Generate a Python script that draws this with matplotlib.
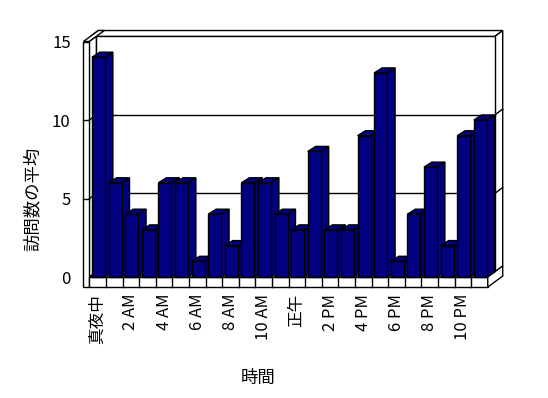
import matplotlib.pyplot as plt
from matplotlib.patches import Polygon
import numpy as np

plt.rcParams["font.family"] = ["Noto Sans CJK JP", "DejaVu Sans"]

hours = np.arange(24)
visits = [14, 6, 4, 3, 6, 6, 1, 4, 2, 6, 6, 4, 3, 8, 3, 3, 9, 13, 1, 4, 7, 2, 9, 10]
tick_pos = [0, 2, 4, 6, 8, 10, 12, 14, 16, 18, 20, 22]
tick_labels = ["真夜中", "2 AM", "4 AM", "6 AM", "8 AM", "10 AM",
               "正午", "2 PM", "4 PM", "6 PM", "8 PM", "10 PM"]
y_ticks = [0, 5, 10, 15]
grid_vals = [5, 10]

NAVY = "#000080"
XL, XR, YTOP = -0.5, 23.5, 15
WX, WY = 0.42, 0.32   # depth from front plane to back wall
TX, TY = 0.48, 0.38   # back wall thickness
LT = 0.36             # left wall thickness
FT = 0.64             # floor thickness
BX, BY = 0.48, 0.32   # bar depth
BW = 0.78
BOFF = 0.157

fig = plt.figure(figsize=(5.48, 3.98), dpi=100)
ax = fig.add_axes([0.1631, 0.304, 0.727, 0.5917])
ax.set_xlim(XL, XR)
ax.set_ylim(0, YTOP)
for s in ax.spines.values():
    s.set_visible(False)
ax.patch.set_visible(False)


def poly(pts, z, fc="white"):
    ax.add_patch(Polygon(pts, closed=True, facecolor=fc, edgecolor="black",
                         lw=1, zorder=z, clip_on=False))


def seg(xs, ys, z=0.5):
    ax.plot(xs, ys, color="black", lw=1, zorder=z, clip_on=False)


# walls and floor
bx, by = XL + WX, WY
poly([(XL - LT + WX, YTOP + WY), (XR + WX, YTOP + WY),
      (XR + WX + TX, YTOP + WY + TY), (XL - LT + WX + TX, YTOP + WY + TY)], 0)
poly([(XL - LT, YTOP), (XL, YTOP), (XL + WX + TX, YTOP + WY + TY),
      (XL - LT + WX + TX, YTOP + WY + TY)], 0)
poly([(XR + WX, WY), (XR + WX + TX, WY + TY), (XR + WX + TX, YTOP + WY + TY),
      (XR + WX, YTOP + WY)], 0)
poly([(bx, by), (XR + WX, by), (XR + WX, YTOP + by), (bx, YTOP + by)], 0)
poly([(XL, 0), (bx, by), (bx, YTOP + by), (XL, YTOP)], 0)
poly([(XL - LT, -FT), (XL, -FT), (XL, YTOP), (XL - LT, YTOP)], 0)
poly([(XL, 0), (XR, 0), (XR + WX, WY), (XL + WX, WY)], 0)
poly([(XL, -FT), (XR, -FT), (XR, 0), (XL, 0)], 0)
poly([(XR, -FT), (XR, 0), (XR + WX + TX, WY + TY), (XR + WX + TX, WY + TY - FT)], 0)

for k in range(1, 24):
    seg([XL + k, XL + k], [-FT, 0])

for g in grid_vals:
    seg([XL - LT, XL], [g, g])
    seg([XL, bx], [g, g + by])
    seg([bx, XR + WX], [g + by, g + by])
    seg([XR + WX, XR + WX + TX], [g + by, g + by + TY])

# bars
bars = ax.bar(hours - 0.5 + BOFF, visits, width=BW, align="edge",
              color=NAVY, edgecolor="black", lw=1)
for i, b in enumerate(bars):
    x0, w, h = b.get_x(), b.get_width(), b.get_height()
    x1 = x0 + w
    b.set_zorder(3 * i + 4)
    poly([(x1, 0), (x1 + BX, BY), (x1 + BX, h + BY), (x1, h)], 3 * i + 3, NAVY)
    poly([(x0, h), (x1, h), (x1 + BX, h + BY), (x0 + BX, h + BY)], 3 * i + 3, NAVY)
    b.set_clip_on(False)

ax.set_yticks(y_ticks)
ax.set_yticklabels([str(t) for t in y_ticks], fontsize=12)
ax.set_xticks(tick_pos)
ax.set_xticklabels(tick_labels, rotation=90, fontsize=12)
ax.tick_params(axis="y", length=0, pad=13.5)
ax.tick_params(axis="x", length=0, pad=12)

ax.set_ylabel("訪問数の平均", fontsize=12.5)
ax.yaxis.set_label_coords(-0.12, 0.33)
ax.set_xlabel("時間", fontsize=12.5)
ax.xaxis.set_label_coords(0.423, -0.39)

fig.savefig("out.png", dpi=100)
